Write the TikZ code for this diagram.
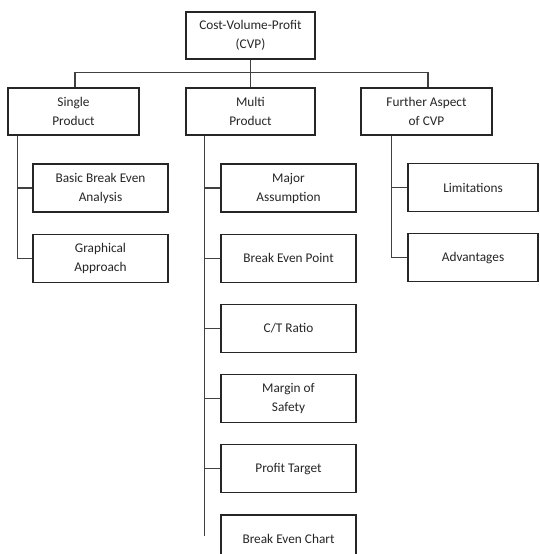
\documentclass[tikz,border=0pt]{standalone}
\usepackage{fontspec}
\setmainfont{Carlito}
\usetikzlibrary{positioning}

\begin{document}
\begin{tikzpicture}[
  x=1pt, y=-1pt,
  node distance = 21pt and 0pt,
  box/.style      = {rectangle, draw=black!85, line width=1.2pt, fill=white,
                     align=center, inner sep=0pt, text=black!85,
                     font=\fontsize{13.3}{19}\selectfont},
  headbox/.style  = {box, minimum width=129pt, minimum height=47pt},
  sidebox/.style  = {box, minimum width=131pt, minimum height=47pt},
  itembox/.style  = {box, minimum width=135pt, minimum height=48pt},
  rightbox/.style = {box, minimum width=130pt, minimum height=48pt},
  link/.style     = {draw=black!75, line width=1.3pt}
]
\clip (0,0) rectangle (539,554);
\fill[white] (0,0) rectangle (539,554);

% ── Root ──────────────────────────────────────────────────────────────────────
\node[headbox] (root) at (250.5,35.5) {Cost-Volume-Profit\\(CVP)};

% ── Level 1 ───────────────────────────────────────────────────────────────────
\node[sidebox] (single)  at (73.5,111.5)  {Single\\Product};
\node[headbox] (multi)   at (250.5,111.5) {Multi\\Product};
\node[sidebox] (further) at (426.5,111.5) {Further Aspect\\of CVP};

% ── Single product ────────────────────────────────────────────────────────────
\node[itembox] (basic) at (100.5,188) {Basic Break Even\\Analysis};
\node[itembox, below=of basic] (graph) {Graphical\\Approach};

% ── Multi product ─────────────────────────────────────────────────────────────
\node[itembox] (major) at (288.5,188) {Major\\Assumption};
\node[itembox, below=of major] (bep)   {Break Even Point};
\node[itembox, below=of bep]   (ctr)   {C/T Ratio};
\node[itembox, below=of ctr]   (mos)   {Margin of\\Safety};
\node[itembox, below=of mos]   (pt)    {Profit Target};
\node[itembox, below=of pt]    (chart) {Break Even Chart};

% ── Further aspect ────────────────────────────────────────────────────────────
\node[rightbox] (limit) at (473,187.5) {Limitations};
\node[rightbox, below=of limit] (adv) {Advantages};

% ── Root → level 1 ────────────────────────────────────────────────────────────
\draw[link] (root.south) -- ++(0,13) coordinate (bus);
\draw[link] (single.north -| 75,0) |- (bus) -| (further.north -| 428,0);
\draw[link] (bus) -- (multi.north);

% ── Spines ────────────────────────────────────────────────────────────────────
\draw[link] (single.south west) ++(10,0) coordinate (sspine) |- (graph.west);
\draw[link] (sspine |- basic.west) -- (basic.west);

\draw[link] (multi.south west) ++(19,0) coordinate (mspine) -- ++(0,400);
\foreach \n in {major,bep,ctr,mos,pt}
  \draw[link] (mspine |- \n.west) -- (\n.west);

\draw[link] (further.south west) ++(31,0) coordinate (fspine) |- (adv.west);
\draw[link] (fspine |- limit.west) -- (limit.west);
\end{tikzpicture}
\end{document}
